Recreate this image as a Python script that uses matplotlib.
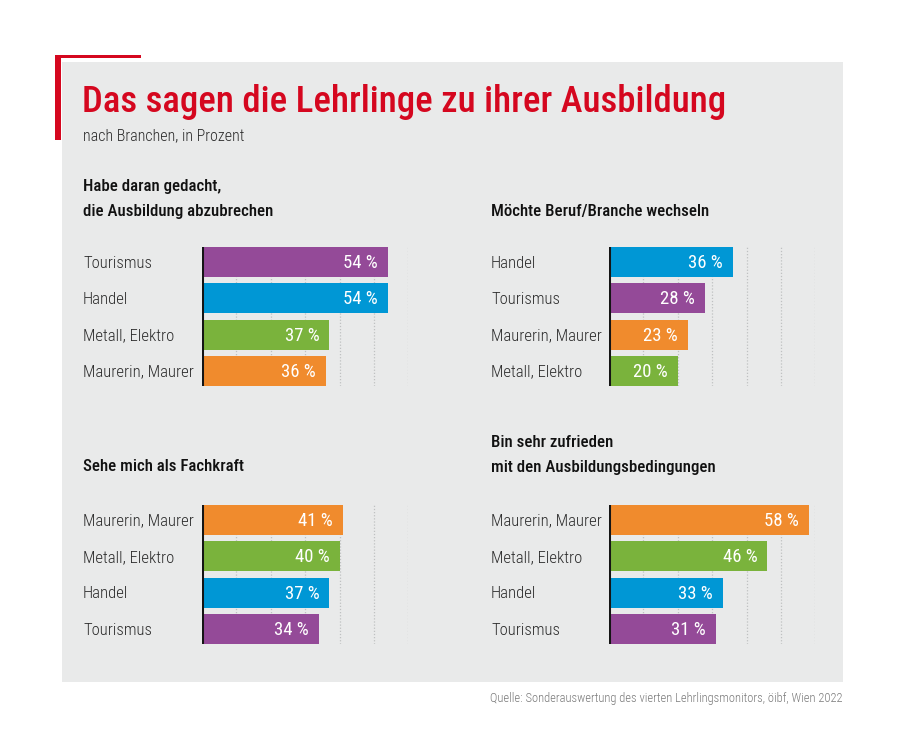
import matplotlib
matplotlib.use("Agg")
import matplotlib.pyplot as plt
from matplotlib.patches import Rectangle
from matplotlib.transforms import blended_transform_factory

plt.rcParams["font.family"] = ["Roboto Condensed", "Archivo Narrow", "DejaVu Sans"]

W, H = 900, 749
RED = "#d5071f"
BG = "#e9eaea"
INK = "#2b2b2b"
COL = {"Tourismus": "#944a98", "Handel": "#0097d5",
       "Metall, Elektro": "#7ab33c", "Maurerin, Maurer": "#f08b2d"}

# data
title = "Das sagen die Lehrlinge zu ihrer Ausbildung"
subtitle = "nach Branchen, in Prozent"
source = "Quelle: Sonderauswertung des vierten Lehrlingsmonitors, öibf, Wien 2022"

t_abbruch = "Habe daran gedacht,\ndie Ausbildung abzubrechen"
cats_abbruch = ["Tourismus", "Handel", "Metall, Elektro", "Maurerin, Maurer"]
vals_abbruch = [54, 54, 37, 36]

t_wechsel = "Möchte Beruf/Branche wechseln"
cats_wechsel = ["Handel", "Tourismus", "Maurerin, Maurer", "Metall, Elektro"]
vals_wechsel = [36, 28, 23, 20]

t_fachkraft = "Sehe mich als Fachkraft"
cats_fachkraft = ["Maurerin, Maurer", "Metall, Elektro", "Handel", "Tourismus"]
vals_fachkraft = [41, 40, 37, 34]

t_zufrieden = "Bin sehr zufrieden\nmit den Ausbildungsbedingungen"
cats_zufrieden = ["Maurerin, Maurer", "Metall, Elektro", "Handel", "Tourismus"]
vals_zufrieden = [58, 46, 33, 31]

fig = plt.figure(figsize=(W / 100, H / 100), dpi=100)
fig.patch.set_facecolor("white")

def fx(x): return x / W
def fy(y): return 1 - y / H

# gray panel + red corner bracket
fig.add_artist(Rectangle((fx(62), fy(682)), fx(843) - fx(62), fy(62) - fy(682),
                         transform=fig.transFigure, fc=BG, ec="none", zorder=0))
fig.add_artist(Rectangle((fx(55), fy(140)), fx(6), fy(55) - fy(140),
                         transform=fig.transFigure, fc=RED, ec="none", zorder=1))
fig.add_artist(Rectangle((fx(55), fy(58)), fx(141) - fx(55), fy(55) - fy(58),
                         transform=fig.transFigure, fc=RED, ec="none", zorder=1))

fig.text(fx(82), fy(112), title, color=RED, fontsize=26.5, fontweight="medium",
         va="baseline", ha="left")
fig.text(fx(83), fy(140), subtitle, color=INK, fontsize=11.5, fontweight="light",
         va="baseline", ha="left")
fig.text(fx(843), fy(702), source, color="#7a7a7a", fontsize=9, fontweight="light",
         va="baseline", ha="right")

PX_PER_PCT = 3.44
BAR_H = 0.82

def panel(x0, ytop, label_x, cats, vals, head, head_y):
    ybot = ytop + 139
    ax = fig.add_axes([fx(x0), fy(ybot), 60 * PX_PER_PCT / W, 139 / H])
    ax.set_facecolor("none")
    ax.set_xlim(0, 60)
    ax.set_ylim(3 + BAR_H / 2, -BAR_H / 2)
    for g in range(10, 61, 10):
        ax.axvline(g, color="#bfc1c2", lw=0.9, ls=(0, (1, 1.5)), zorder=0)
    ys = range(len(cats))
    ax.barh(ys, vals, height=BAR_H, color=[COL[c] for c in cats], zorder=2)
    ax.axvline(0, color="#151515", lw=2.2, zorder=3)
    for y, v in zip(ys, vals):
        ax.text(v - 2.9, y + 0.03, f"{v} %", color="white", fontsize=13.5,
                fontweight="normal", ha="right", va="center", zorder=4)
    tr = blended_transform_factory(fig.transFigure, ax.transData)
    for y, c in zip(ys, cats):
        ax.text(fx(label_x), y + 0.03, c, transform=tr, color=INK, fontsize=12,
                fontweight="light", ha="left", va="center")
    for i, line in enumerate(head.split("\n")):
        fig.text(fx(label_x), fy(head_y + 25 * i), line, color="#111111",
                 fontsize=12.2, fontweight="medium", va="baseline", ha="left")
    ax.axis("off")
    return ax

panel(202, 247, 83, cats_abbruch, vals_abbruch, t_abbruch, 191)
panel(609, 247, 491, cats_wechsel, vals_wechsel, t_wechsel, 216)
panel(202, 505, 83, cats_fachkraft, vals_fachkraft, t_fachkraft, 471)
panel(609, 505, 491, cats_zufrieden, vals_zufrieden, t_zufrieden, 447)

fig.savefig("out.png", dpi=100)
